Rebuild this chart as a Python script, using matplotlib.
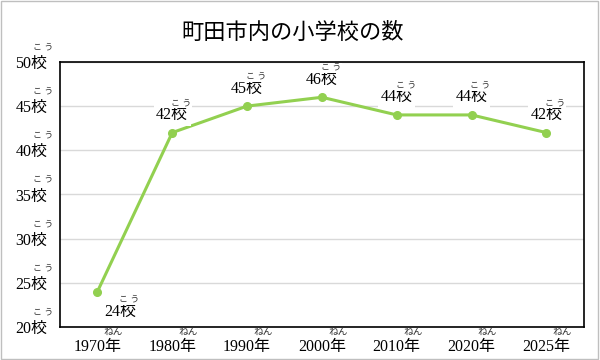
import matplotlib.pyplot as plt
from matplotlib.patches import Rectangle

plt.rcParams['font.family'] = ['Liberation Serif', 'Noto Sans CJK JP']

years = ["1970年", "1980年", "1990年", "2000年", "2010年", "2020年", "2025年"]
schools = [24, 42, 45, 46, 44, 44, 42]
yticks = [20, 25, 30, 35, 40, 45, 50]
title = "町田市内の小学校の数"
green = "#92d050"


def main():
    fig = plt.figure(figsize=(6, 3.6), dpi=100)
    ax = fig.add_axes([0.1, 0.0917, 0.873, 0.7363])

    ax.plot(years, schools, color=green, lw=2.2, marker="o", ms=5.5, zorder=3)
    ax.set_xlim(-0.5, len(years) - 0.5)
    ax.set_ylim(20, 50)
    ax.set_yticks(yticks)
    ax.set_yticklabels([f"{v}校" for v in yticks])
    ax.tick_params(axis="both", length=0, labelsize=11.5)
    ax.tick_params(axis="y", pad=9)
    ax.tick_params(axis="x", pad=9)
    ax.grid(axis="y", color="#d9d9d9", lw=1)
    ax.set_axisbelow(True)
    for s in ax.spines.values():
        s.set_color("black")
        s.set_linewidth(1.2)

    # furigana on tick labels
    for v in yticks:
        ax.annotate("こ う", xy=(0, v), xycoords=ax.get_yaxis_transform(),
                    xytext=(-12, 10.5), textcoords="offset points",
                    ha="center", va="center", fontsize=6.5, color="#333333")
    for i in range(len(years)):
        ax.annotate("ねん", xy=(i, 0), xycoords=ax.get_xaxis_transform(),
                    xytext=(11.5, -4), textcoords="offset points",
                    ha="center", va="center", fontsize=7, color="#333333")

    # data labels
    for i, v in enumerate(schools):
        if i == 0:
            dx, dy = 16.5, -14.5
        else:
            dx, dy = 0, 12.6
        ax.annotate(f"{v}校", xy=(i, v), xytext=(dx, dy), textcoords="offset points",
                    ha="center", va="center", fontsize=11.5, zorder=4,
                    bbox=dict(boxstyle="square,pad=0.15", fc="white", ec="none"))
        ax.annotate("こ う", xy=(i, v), xytext=(dx + 6.5, dy + 8.5), textcoords="offset points",
                    ha="center", va="center", fontsize=6.5, zorder=5, color="#333333",
                    bbox=dict(boxstyle="square,pad=0.1", fc="white", ec="none"))

    fig.text(0.487, 0.908, title, ha="center", va="center", fontsize=16)
    fig.patches.append(Rectangle((0.002, 0.003), 0.995, 0.993, transform=fig.transFigure,
                                 fill=False, ec="#bfbfbf", lw=1))
    fig.savefig("out.png", dpi=100)


if __name__ == "__main__":
    main()
